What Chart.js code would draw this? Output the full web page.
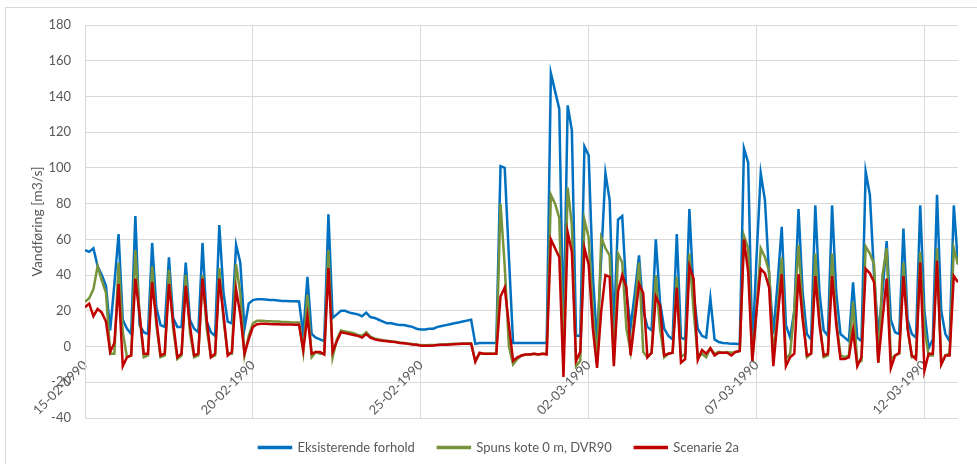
<!DOCTYPE html>
<html lang="da">
<head>
<meta charset="utf-8">
<title>Vandføring</title>
<script src="https://cdn.jsdelivr.net/npm/chart.js@4.4.1/dist/chart.umd.min.js"></script>
<style>
  html, body { margin: 0; padding: 0; background: #fff; overflow: hidden; }
  #ramme { position: absolute; left: 5px; top: 7px; width: 990px; height: 480px; border: 1px solid #d9d9d9; }
  #grafico { position: absolute; left: 0; top: 0; }
</style>
</head>
<body>
<div id="ramme"></div>
<canvas id="grafico" width="977" height="464"></canvas>
<script>
// =============================
// DATA
// =============================
const tickLabels = ["15-02-1990", "20-02-1990", "25-02-1990", "02-03-1990", "07-03-1990", "12-03-1990"];
const seriesNames = ["Eksisterende forhold", "Spuns kote 0 m, DVR90", "Scenarie 2a"];
const samplesPerDay = 8; // 3-timers værdier

const eksisterende = [
  54, 53, 55, 45, 40, 34, 9, 35,              // 15-02
  63, 15, 10, 7, 73, 12, 8, 7,
  58, 22, 12, 11, 50, 16, 11, 11,
  47, 15, 10, 8, 58, 14, 8, 6,
  68, 30, 14, 13, 57, 47, 10, 24,
  26, 26.5, 26.5, 26.3, 26, 26, 25.8, 25.5,   // 20-02
  25.5, 25.3, 25.3, 25.2, 7, 39, 7, 5,
  4, 3, 74, 16, 18, 20, 20, 19,
  18.5, 18, 17, 19, 16.5, 16, 15, 14,
  13, 13, 12.5, 12, 12, 11.5, 11, 10,
  9.5, 9.5, 10, 10, 11, 11.5, 12, 12.5,       // 25-02
  13, 13.5, 14, 14.5, 15, 1.5, 2, 2,
  2, 2, 2, 101, 100, 50, 2, 2,
  2, 2, 2, 2, 2, 2, 2, 153,
  143, 133, 6, 135, 121, 6, 6, 112,
  107, 40, 2, 50, 97, 82, 9, 71,              // 02-03
  73, 30, 11, 30, 51, 20, 11, 9,
  60, 25, 10, 6, 4, 63, 5, 4,
  77, 30, 10, 6, 5, 27, 4, 2.5,
  2, 1.8, 1.5, 1.5, 1.3, 111, 103, -2,
  50, 97, 82, 40, 7, 35, 67, 12,              // 07-03
  5, 20, 77, 30, 7, 4, 79, 30,
  9, 6, 79, 30, 7, 5, 3, 36,
  5, 3, 98, 85, 40, 7, 30, 59,
  15, 8, 7, 66, 15, 7, 5, 79,
  20, -1, 4, 85, 20, 7, 3, 79,                // 12-03
  46, 8
];

const spuns = [
  25, 27, 32, 45, 37, 30, -4, -4,
  47, 8, -6, -5, 54, 18, -6, -5,
  45, 12, -6, -5, 43, 10, -7, -5,
  40, 8, -6, -5, 40, 10, -6, -5,
  44, 15, -4, -4, 46, 30, -5, 6,
  13, 14.5, 14.5, 14.3, 14.2, 14, 14, 13.8,
  13.8, 13.6, 13.5, 13.5, -3, 29, -6, -3,
  -4, -4, 54, -6, 4, 9, 8.5, 8,
  7.5, 6.5, 6, 8, 5.5, 4.5, 4, 3.5,
  3.2, 3, 2.6, 2.2, 2, 1.7, 1.4, 1.2,
  0.8, 0.7, 0.8, 0.9, 1, 1.2, 1.2, 1.4,
  1.5, 1.6, 1.7, 1.7, 1.8, -8, -4, -4,
  -4, -4, -4, 80, 45, 0, -10, -7,
  -5, -4.5, -4.5, -4, -4.5, -4, -4, 85,
  80, 72, -8, 89, 68, -11, -8, 71,
  61, 20, -9, 61, 55, 51, -8, 52,
  47, 10, -3, 20, 47, -3, -6, -3.5,
  40, 10, -6, -4, -3.5, 39, -6, -4,
  52, 20, -6, -4, -6, -1, -4, -3,
  -3.5, -3, -3.5, -3, -2.5, 62, 55, -8,
  20, 55, 50, 42, -6, 20, 50, -7,
  -4, 20, 57, 20, -6, -4, 52, 15,
  -6, -5, 52, 15, -5, -6, -5, 25,
  -9, -8, 56, 52, 46, -9, 40, 55,
  -7, -5, -4, 47, 10, -6, -5, 53,
  10, -5, -5, 55, -10, -5, -4, 55,
  46, -1
];

const scenarie = [
  22, 24, 17, 21, 19, 14, -3, 2,
  35, -11, -6, -5, 38, 18, -4, -4,
  36, 15, -5, -4, 35, 14, -6, -4,
  34, 12, -5, -4, 38, 15, -6, -4,
  38, 18, -5, -3, 32, 18, -4, 4,
  11, 12.5, 12.8, 12.8, 12.6, 12.5, 12.5, 12.4,
  12.3, 12.3, 12.2, 12.2, -2, 17, -4, -3,
  -3, -4.5, 44, -3, 3, 8, 7.5, 7,
  6.5, 6, 5, 7, 5, 4, 3.5, 3.2,
  3, 2.7, 2.5, 2, 1.8, 1.5, 1.2, 1,
  0.5, 0.4, 0.5, 0.6, 0.8, 1, 1, 1.2,
  1.3, 1.4, 1.5, 1.5, 1.6, -8.5, -3.5, -4,
  -4, -4, -4, 28, 33, 12, -8, -6,
  -5, -4.5, -4.5, -4, -4.5, -4, -4.5, 60,
  55, 50, -17, 64, 53, -8, -3, 55,
  46, 10, -12, 20, 40, 39, -11, 31,
  40, 33, -5, 15, 35, 30, -6, -3.5,
  28, 23, -5, -4, -3.5, 33, -9, -7,
  45, 38, -7.5, -2, -4, -1, -5, -3.5,
  -3.5, -3.5, -5, -3, -2.5, 60, 42, -8,
  20, 43.5, 41, 33, -11, 15, 40.5, -11,
  -6, -4, 40.5, 15, -5, -4, 39.5, 12,
  -5, -4, 39.5, 12, -7, -7, -6, 9,
  -11, -6, 43.5, 41, 36, -9, 15, 38,
  -12, -5, -3.5, 39.5, 10, -5, -7, 47,
  -13.5, -4, -4, 48, -10, -5, -5, 39.5,
  36, -5
];

// =============================
// HJÆLPERE
// =============================
function punkter(valores) {
  return valores.map((v, i) => ({ x: i / samplesPerDay, y: v }));
}

Chart.defaults.font.family = "Lato, 'Liberation Sans', sans-serif";
Chart.defaults.color = "#595959";

const gridColor = "#d9d9d9";

// =============================
// GRAFIK
// =============================
const grafico = new Chart(document.getElementById("grafico"), {
  type: "line",
  data: {
    datasets: [
      { label: seriesNames[0], data: punkter(eksisterende), borderColor: "#0070c0", backgroundColor: "#0070c0", order: 3 },
      { label: seriesNames[1], data: punkter(spuns), borderColor: "#77933c", backgroundColor: "#77933c", order: 2 },
      { label: seriesNames[2], data: punkter(scenarie), borderColor: "#c00000", backgroundColor: "#c00000", order: 1 }
    ]
  },
  options: {
    responsive: false,
    animation: false,
    elements: {
      point: { radius: 0 },
      line: { borderWidth: 2.5, tension: 0 }
    },
    layout: { padding: { top: 25, right: 19, bottom: 0, left: 40 } },
    plugins: {
      tooltip: { enabled: false },
      legend: {
        position: "bottom",
        labels: {
          boxWidth: 32,
          boxHeight: 1,
          padding: 23,
          font: { size: 13 },
          sort: (a, b) => a.datasetIndex - b.datasetIndex
        }
      }
    },
    scales: {
      x: {
        type: "linear",
        position: { y: 0 },
        min: 0,
        max: 26,
        afterFit: (scale) => { scale.height = 1; },
        grid: { color: gridColor, drawTicks: false },
        border: { color: gridColor },
        ticks: {
          stepSize: 5,
          includeBounds: false,
          autoSkip: false,
          minRotation: 45,
          maxRotation: 45,
          padding: 11,
          font: { size: 13 },
          callback: (v) => tickLabels[v / 5]
        }
      },
      y: {
        min: -40,
        max: 180,
        afterFit: (scale) => { scale.width = 45; },
        grid: { color: gridColor, drawTicks: false },
        border: { color: gridColor },
        ticks: { stepSize: 20, padding: 14, font: { size: 13 } },
        title: {
          display: true,
          text: "Vandføring [m3/s]",
          font: { size: 14 },
          padding: { top: -11, bottom: 0 }
        }
      }
    }
  }
});
</script>
</body>
</html>
